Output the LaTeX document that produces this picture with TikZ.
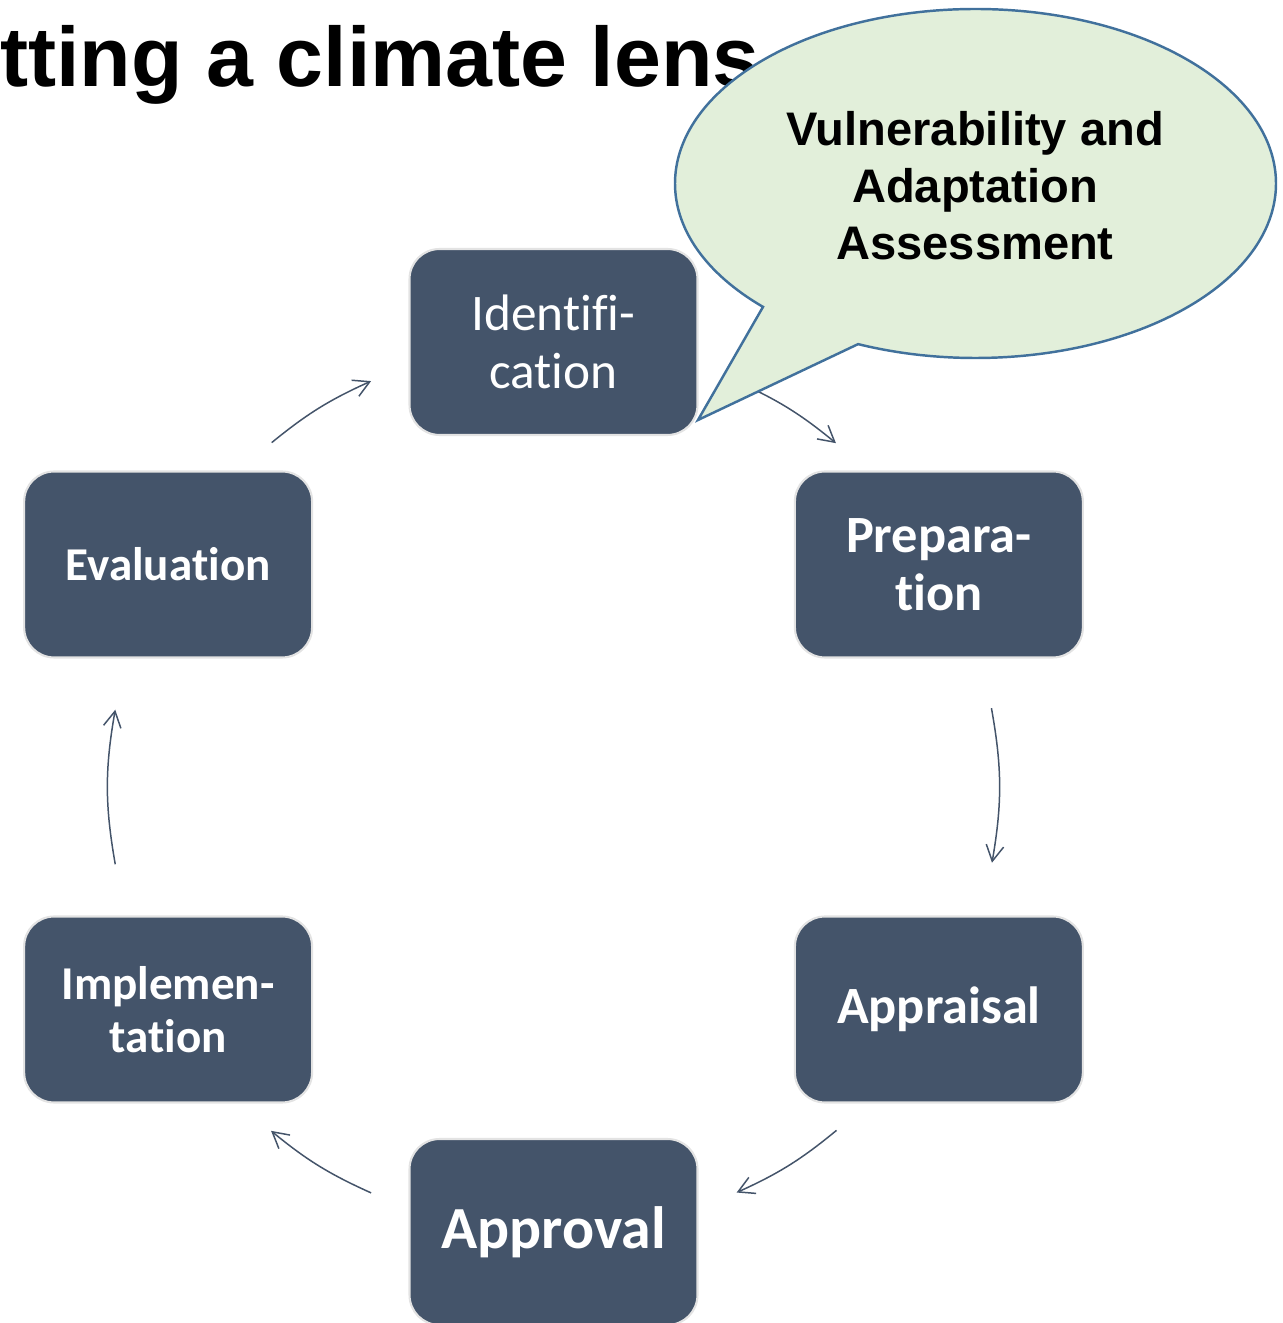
\documentclass[tikz,border=0pt]{standalone}
\usepackage{fontspec}
\setmainfont{Carlito}[Ligatures=NoCommon]
\newfontfamily\arialfont{Liberation Sans}
\usetikzlibrary{calc,arrows.meta}

\definecolor{slate}{HTML}{44546A}
\definecolor{bubblefill}{HTML}{E2EFDA}
\definecolor{bubbleline}{HTML}{41719C}
\definecolor{boxedge}{HTML}{E3E3E3}

\begin{document}
\begin{tikzpicture}[
    % one unit is one pixel of the slide
    x=0.02cm, y=0.02cm,
    % boxes of the cycle
    stage/.style={rectangle, rounded corners=0.6cm, minimum width=5.76cm, minimum height=3.72cm,
                  line width=1.2pt, draw=boxedge, fill=slate, text=white, align=center, inner sep=0pt},
    plain/.style={stage, font=\fontsize{29.2}{33.4}\selectfont},
    bold/.style={stage, font=\bfseries\fontsize{29.8}{32.9}\selectfont},
    boldsmall/.style={stage, font=\bfseries\fontsize{26.8}{30}\selectfont},
    boldbig/.style={stage, font=\bfseries\fontsize{34}{40}\selectfont},
    % title and speech bubble
    title/.style={font=\arialfont\bfseries\fontsize{48}{56}\selectfont, inner sep=0pt, anchor=base west},
    bubble/.style={fill=bubblefill, draw=bubbleline, line width=1.4pt, line join=miter},
    bubbletext/.style={font=\arialfont\bfseries\fontsize{26.8}{32.6}\selectfont, align=center, inner sep=0pt},
    % arrows
    cycarr/.style={slate, line width=0.85pt, -{Straight Barb[length=9pt,width=10pt]}},
  ]

  \useasboundingbox (0,0) rectangle (1283,1323);

  \node (title) [title] at (0,1236) {tting a climate lens};

  % centre of the cycle
  \coordinate (mid) at (553.5,536);

  \node (ident) [plain]     at ($(mid)+(90:445)$)  {Identifi-\\cation};
  \node (prep)  [bold]      at ($(mid)+(30:445)$)  {Prepara-\\tion};
  \node (appr)  [bold]      at ($(mid)+(-30:445)$) {Appraisal};
  \node (apprv) [boldbig]   at ($(mid)+(-90:445)$) {Approval};
  \node (impl)  [boldsmall] at ($(mid)+(210:445)$) {Implemen-\\tation};
  \node (eval)  [boldsmall] at ($(mid)+(150:445)$) {Evaluation};

  % ends of the arrows, on the circle of the cycle
  \coordinate (a1s) at ($(mid)+(66:445)$);
  \coordinate (a1e) at ($(mid)+(50.6:445)$);
  \coordinate (a2s) at ($(mid)+(10.2:445)$);
  \coordinate (a2e) at ($(mid)+(-9.8:445)$);
  \coordinate (a3s) at ($(mid)+(-50.5:445)$);
  \coordinate (a3e) at ($(mid)+(-65.7:445)$);
  \coordinate (a4s) at ($(mid)+(-114.2:445)$);
  \coordinate (a4e) at ($(mid)+(-129.4:445)$);
  \coordinate (a5s) at ($(mid)+(190:445)$);
  \coordinate (a5e) at ($(mid)+(170:445)$);
  \coordinate (a6s) at ($(mid)+(129.3:445)$);
  \coordinate (a6e) at ($(mid)+(114.2:445)$);

  \draw[cycarr] (a1s) to[bend left=7.7] (a1e);
  \draw[cycarr] (a2s) to[bend left=10]  (a2e);
  \draw[cycarr] (a3s) to[bend left=7.6] (a3e);
  \draw[cycarr] (a4s) to[bend left=7.6] (a4e);
  \draw[cycarr] (a5s) to[bend left=10]  (a5e);
  \draw[cycarr] (a6s) to[bend left=7.5] (a6e);

  % speech bubble pointing at the identification box
  \coordinate (bc)  at (975.5,1139.5);
  \coordinate (tip) at (698,903);
  \draw[bubble] (tip) -- ($(bc)+(225:300.5 and 174.5)$)
                arc[start angle=225, end angle=-113, x radius=300.5, y radius=174.5] -- cycle;

  \node (vaa) [bubbletext] at (975,1137.5) {Vulnerability and\\Adaptation\\Assessment};

\end{tikzpicture}
\end{document}
